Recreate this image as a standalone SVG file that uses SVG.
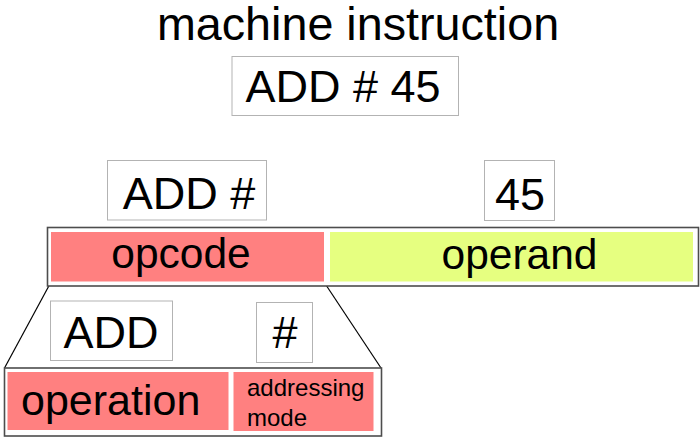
<svg xmlns="http://www.w3.org/2000/svg" width="700" height="437" viewBox="0 0 700 437">
<style>
text{font-family:"Liberation Sans",Arial,sans-serif;fill:#000}
.lbl{fill:#fff;stroke:#b3b3b3;stroke-width:1}
.frame{fill:#fff;stroke:#4d4d4d;stroke-width:1.6}
.red{fill:#ff8080}
.yel{fill:#e6ff80}
.big{font-size:45px;text-anchor:middle}
.mid{font-size:42.5px;text-anchor:middle}
</style>
<rect width="700" height="437" fill="#fff"/>
<g id="title"><text x="358" y="39.7" font-size="46.7" text-anchor="middle">machine instruction</text></g>
<g id="instr"><rect class="lbl" x="232" y="56.5" width="226.5" height="59"/><text class="big" x="343" y="102">ADD # 45</text></g>
<g id="label-addhash"><rect class="lbl" x="107.5" y="160.5" width="159" height="59.5"/><text class="big" x="189" y="208.5">ADD #</text></g>
<g id="label-45"><rect class="lbl" x="484.5" y="160.5" width="70" height="60"/><text class="big" x="520" y="210">45</text></g>
<g id="connectors" stroke="#000" stroke-width="1.2" fill="none">
<line x1="51" y1="282" x2="4.5" y2="368"/>
<line x1="324" y1="282" x2="381" y2="368"/>
</g>
<g id="word"><rect class="frame" x="47.5" y="227.5" width="651" height="58.5"/>
<g id="opcode"><rect class="red" x="51" y="232" width="273" height="49.5"/><text class="mid" x="181" y="268">opcode</text></g>
<g id="operand"><rect class="yel" x="330" y="232" width="363" height="49.5"/><text class="mid" x="519.5" y="269">operand</text></g>
</g>
<g id="label-add"><rect class="lbl" x="50.5" y="301" width="122" height="59.5"/><text class="big" x="111" y="347.5">ADD</text></g>
<g id="label-hash"><rect class="lbl" x="256.5" y="302.5" width="56" height="60"/><text class="big" x="285" y="348">#</text></g>
<g id="opcode-detail"><rect class="frame" x="4.5" y="368" width="377" height="68"/>
<g id="operation"><rect class="red" x="7.5" y="372" width="221" height="58"/><text x="21" y="415" font-size="43">operation</text></g>
<g id="addressing-mode"><rect class="red" x="233.5" y="372" width="140" height="59"/><text x="247" y="396" font-size="24">addressing</text><text x="247" y="425.5" font-size="24">mode</text></g>
</g>
</svg>
